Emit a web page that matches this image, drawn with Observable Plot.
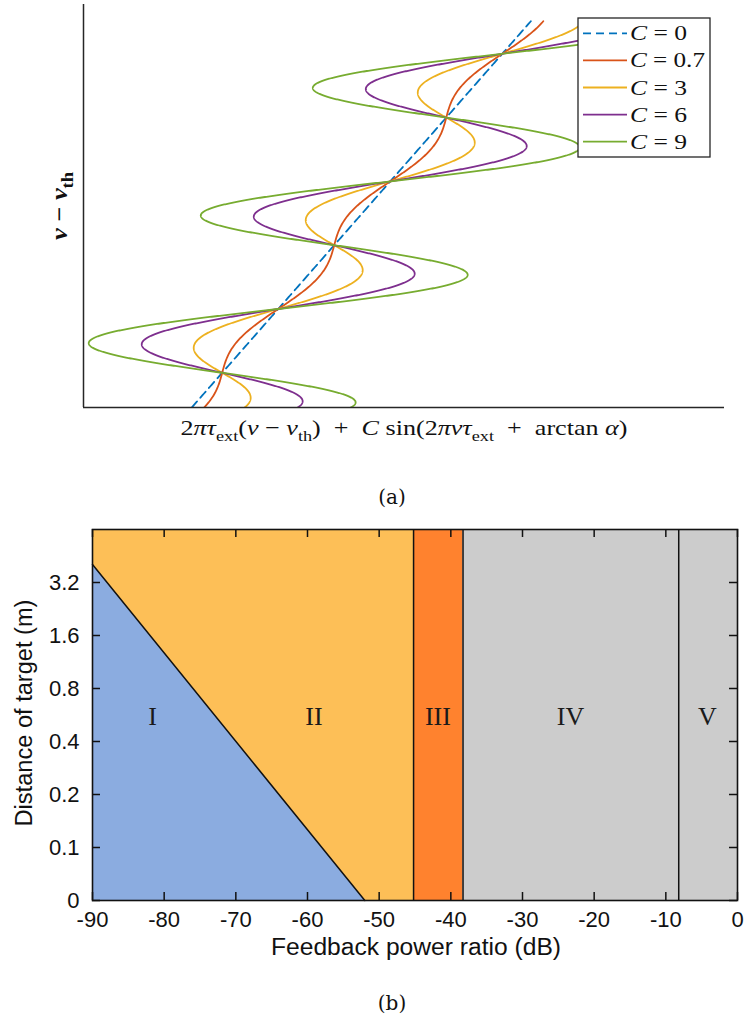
<!DOCTYPE html>
<html>
<head>
<meta charset="utf-8">
<script src="https://cdn.jsdelivr.net/npm/d3@7"></script>
<script src="https://cdn.jsdelivr.net/npm/@observablehq/plot@0.6"></script>
<style>
  body { margin: 0; background: #fff; }
  #wrap { position: relative; width: 744px; height: 1026px; overflow: hidden; }
  #wrap svg { position: absolute; left: 0; }
  .cap { position: absolute; left: 0; width: 784px; text-align: center;
         font-family: "DejaVu Serif", serif; font-size: 20px; line-height: 22px; color: #111; }
</style>
</head>
<body>
<div id="wrap"></div>
<script>
// ---------------- Panel (a) data ----------------
// curves: x = 2πτext(ν−νth) + C·sin(2πντext + arctan α), y = ν−νth (phase units)
const cValues = [0, 0.7, 3, 6, 9];
const cLabels = ["0", "0.7", "3", "6", "9"];
const cColors = ["#0072BD", "#D95319", "#EDB120", "#7E2F8E", "#77AC30"];
const cDashes = ["8,5", null, null, null, null];
const phaseRange = [1.433, 6 * Math.PI + 1.6];   // plotted span of 2πτext(ν−νth)
const xDomainA = [-4.637, 31.313];
const yDomainA = [1.433, 21.276];

// ---------------- Panel (b) data ----------------
const regionNames = ["I", "II", "III", "IV", "V"];
const regionColors = ["#8BACE0", "#FDBF57", "#FF822E", "#CCCCCC", "#CCCCCC"];
const borderX = [-45.2, -38.3, -8.2];          // vertical region borders (dB)
const diagonalX = [-90, -52];                  // I / II border
const diagonalY = [4.05, 0.05];
const labelX = [-81.6, -59.1, -41.8, -23.3, -4.2];
const labelY = 0.55;
const xDomainB = [-90, 0];
const yDomainB = [0.05, 6.4];
const xTicksB = [-90, -80, -70, -60, -50, -40, -30, -20, -10, 0];
const yTicksB = [0.05, 0.1, 0.2, 0.4, 0.8, 1.6, 3.2];
const yTickLabelsB = ["0", "0.1", "0.2", "0.4", "0.8", "1.6", "3.2"];

const wrap = document.getElementById("wrap");

// ---------- Panel (a) ----------
const N = 1600;
const curveData = cValues.map((c) => {
  const pts = [];
  for (let i = 0; i <= N; i++) {
    const u = phaseRange[0] + (phaseRange[1] - phaseRange[0]) * i / N;
    pts.push({x: u + c * Math.sin(u), y: u});
  }
  return pts;
});

const plotA = Plot.plot({
  width: 744, height: 450,
  marginTop: 4, marginBottom: 43, marginLeft: 83, marginRight: 20,
  x: {domain: xDomainA, axis: null},
  y: {domain: yDomainA, axis: null},
  marks: [
    ...curveData.map((pts, k) => Plot.line(pts, {
      x: "x", y: "y", stroke: cColors[k], strokeWidth: 1.8,
      strokeDasharray: cDashes[k] || undefined, clip: true
    })),
    Plot.ruleX([xDomainA[0]], {stroke: "#262626", strokeWidth: 1.5}),
    Plot.ruleY([yDomainA[0]], {stroke: "#262626", strokeWidth: 1.5})
  ]
});
plotA.style.top = "0px";
wrap.appendChild(plotA);

const svgA = d3.select(plotA);
const serif = "'Liberation Serif', serif";

function mathText(sel, parts, size) {
  parts.forEach(([t, kind]) => {
    const ts = sel.append("tspan").text(t);
    if (kind === "i") ts.attr("font-style", "italic");
    if (kind === "sub") ts.attr("font-size", size * 0.7).attr("dy", size * 0.25);
    if (kind === "after") ts.attr("dy", -size * 0.25);
  });
}

// x label
const xlA = svgA.append("text")
  .attr("x", 404).attr("y", 435).attr("text-anchor", "middle")
  .attr("font-family", serif).attr("font-size", 22).attr("fill", "#111")
  .attr("textLength", 447).attr("lengthAdjust", "spacingAndGlyphs");
mathText(xlA, [
  ["2", "n"], ["πτ", "i"], ["ext", "sub"], ["(", "after"], ["ν", "i"], [" − ", "n"], ["ν", "i"],
  ["th", "sub"], [")  +  ", "after"], ["C", "i"], [" sin(2", "n"], ["πντ", "i"], ["ext", "sub"],
  ["  +  arctan ", "after"], ["α", "i"], [")", "n"]
], 22);

// y label
const ylA = svgA.append("text")
  .attr("transform", "translate(67,206) rotate(-90)").attr("text-anchor", "middle")
  .attr("font-family", serif).attr("font-size", 23).attr("font-weight", "bold").attr("fill", "#111")
  .attr("textLength", 68).attr("lengthAdjust", "spacingAndGlyphs");
mathText(ylA, [["ν", "i"], [" − ", "n"], ["ν", "i"], ["th", "sub"]], 23);

// legend
const leg = svgA.append("g").attr("text-anchor", "start");
leg.append("rect").attr("x", 578).attr("y", 18).attr("width", 132).attr("height", 139)
  .attr("fill", "#fff").attr("stroke", "#262626").attr("stroke-width", 1.3);
cValues.forEach((c, k) => {
  const yy = 33.3 + k * 27.1;
  leg.append("line").attr("x1", 583).attr("x2", 627).attr("y1", yy).attr("y2", yy)
    .attr("stroke", cColors[k]).attr("stroke-width", 1.8)
    .attr("stroke-dasharray", cDashes[k] || null);
  const t = leg.append("text").attr("x", 630).attr("y", yy + 7).attr("text-anchor", "start")
    .attr("font-family", serif).attr("font-size", 21).attr("fill", "#111")
    .attr("textLength", cLabels[k].length > 1 ? 75 : 57).attr("lengthAdjust", "spacingAndGlyphs");
  t.append("tspan").attr("font-style", "italic").text("C");
  t.append("tspan").text(" = " + cLabels[k]);
});

// ---------- Panel (b) ----------
const regionI = [
  {x: diagonalX[0], y1: yDomainB[0], y2: diagonalY[0]},
  {x: diagonalX[1], y1: yDomainB[0], y2: diagonalY[1]}
];
const regionII = [
  {x: diagonalX[0], y1: diagonalY[0], y2: yDomainB[1]},
  {x: diagonalX[1], y1: diagonalY[1], y2: yDomainB[1]},
  {x: borderX[0], y1: yDomainB[0], y2: yDomainB[1]}
];
const bandEdges = [borderX[0], borderX[1], borderX[2], xDomainB[1]];
const bands = [0, 1, 2].map((i) => ({x1: bandEdges[i], x2: bandEdges[i + 1], fill: regionColors[i + 2]}));
const diagonal = diagonalX.map((x, i) => ({x, y: diagonalY[i]}));
const labels = regionNames.map((name, i) => ({name, x: labelX[i], y: labelY}));

const mB = {top: 29, bottom: 70, left: 92, right: 7, width: 744, height: 470};
const frameW = mB.width - mB.left - mB.right;
const frameH = mB.height - mB.top - mB.bottom;
const tickLen = 8;
const tickStyle = {stroke: "#111", strokeWidth: 1.5};

const plotB = Plot.plot({
  width: mB.width, height: mB.height,
  marginTop: mB.top, marginBottom: mB.bottom, marginLeft: mB.left, marginRight: mB.right,
  style: {fontFamily: "'Liberation Sans', Arial, sans-serif", fontSize: "22px", color: "#111"},
  x: {domain: xDomainB},
  y: {type: "log", base: 2, domain: yDomainB},
  marks: [
    Plot.areaY(regionI, {x: "x", y1: "y1", y2: "y2", fill: regionColors[0]}),
    Plot.areaY(regionII, {x: "x", y1: "y1", y2: "y2", fill: regionColors[1]}),
    Plot.rect(bands, {x1: "x1", x2: "x2", y1: () => yDomainB[0], y2: () => yDomainB[1], fill: (d) => d.fill}),
    Plot.line(diagonal, {x: "x", y: "y", stroke: "#111", strokeWidth: 1.5}),
    Plot.ruleX(borderX, {stroke: "#111", strokeWidth: 1.5}),
    // inward ticks on all four sides
    Plot.ruleX(xTicksB, {...tickStyle, insetTop: frameH - tickLen}),
    Plot.ruleX(xTicksB, {...tickStyle, insetBottom: frameH - tickLen}),
    Plot.ruleY(yTicksB, {...tickStyle, insetRight: frameW - tickLen}),
    Plot.ruleY(yTicksB, {...tickStyle, insetLeft: frameW - tickLen}),
    Plot.frame({stroke: "#111", strokeWidth: 1.6}),
    Plot.axisX(xTicksB, {anchor: "bottom", tickSize: 0, tickPadding: 11, tickFormat: (d) => String(d), label: null}),
    Plot.axisY(yTicksB, {anchor: "left", tickSize: 0, tickPadding: 13,
      tickFormat: (d) => yTickLabelsB[yTicksB.indexOf(d)], label: null}),
    Plot.text(labels, {x: "x", y: "y", text: "name", fontFamily: serif, fontSize: 26, fill: "#1a1a1a"})
  ]
});
plotB.style.top = "500px";
wrap.appendChild(plotB);

const svgB = d3.select(plotB);
svgB.append("text").attr("x", 416).attr("y", 455).attr("text-anchor", "middle")
  .attr("font-family", "'Liberation Sans', Arial, sans-serif").attr("font-size", 23).attr("fill", "#111")
  .attr("textLength", 290).attr("lengthAdjust", "spacingAndGlyphs")
  .text("Feedback power ratio (dB)");
svgB.append("text").attr("transform", "translate(32,213) rotate(-90)").attr("text-anchor", "middle")
  .attr("font-family", "'Liberation Sans', Arial, sans-serif").attr("font-size", 23).attr("fill", "#111")
  .attr("textLength", 227).attr("lengthAdjust", "spacingAndGlyphs")
  .text("Distance of target (m)");

// captions
const capA = document.createElement("div");
capA.className = "cap"; capA.style.top = "486px"; capA.textContent = "(a)";
wrap.appendChild(capA);
const capB = document.createElement("div");
capB.className = "cap"; capB.style.top = "992px"; capB.textContent = "(b)";
wrap.appendChild(capB);
</script>
</body>
</html>
